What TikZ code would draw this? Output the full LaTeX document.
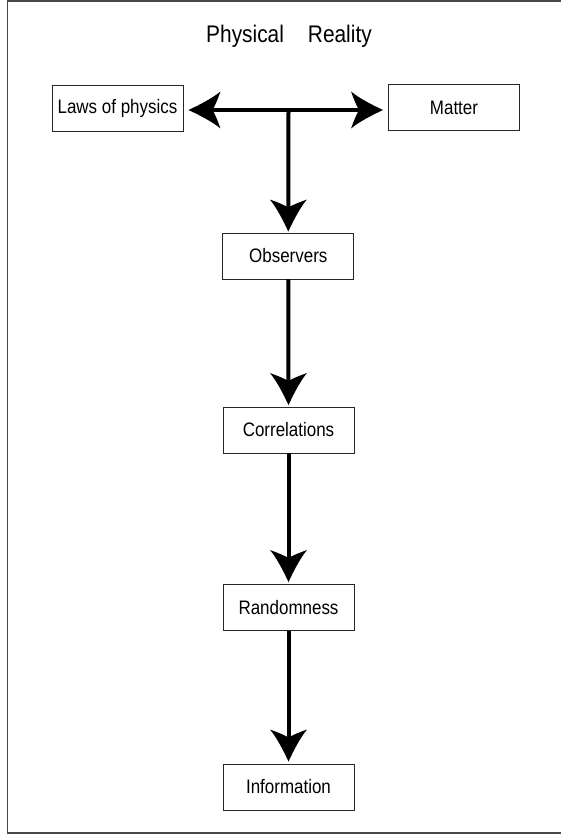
\documentclass[tikz,border=0pt]{standalone}
\usepackage{fontspec}
\setmainfont{Liberation Sans}[FakeStretch=0.87]
\usetikzlibrary{arrows.meta}
\pgfdeclarearrow{
  name = Barb,
  setup code = {
    \pgfarrowssettipend{0pt}
    \pgfarrowssetlineend{-18pt}
    \pgfarrowssetbackend{-32pt}
    \pgfarrowssetvisualbackend{-24pt}
    \pgfarrowsupperhullpoint{0pt}{0pt}
    \pgfarrowsupperhullpoint{-32pt}{18.5pt}
  },
  drawing code = {
    \pgfpathmoveto{\pgfqpoint{0pt}{0pt}}
    \pgfpathcurveto{\pgfqpoint{-12pt}{5.5pt}}{\pgfqpoint{-25pt}{12.5pt}}{\pgfqpoint{-32pt}{18.5pt}}
    \pgfpathcurveto{\pgfqpoint{-29pt}{10pt}}{\pgfqpoint{-26pt}{3pt}}{\pgfqpoint{-24pt}{0pt}}
    \pgfpathcurveto{\pgfqpoint{-26pt}{-3pt}}{\pgfqpoint{-29pt}{-10pt}}{\pgfqpoint{-32pt}{-18.5pt}}
    \pgfpathcurveto{\pgfqpoint{-25pt}{-12.5pt}}{\pgfqpoint{-12pt}{-5.5pt}}{\pgfqpoint{0pt}{0pt}}
    \pgfpathclose
    \pgfusepathqfill
  }
}
\tikzset{
  box/.style={draw=black!85, line width=0.9pt, minimum width=131pt, minimum height=46pt,
    inner sep=0pt, font=\fontsize{19.5}{22}\selectfont},
  conn/.style={line width=4pt, -{Barb}},
  frame/.style={draw=black!72, line width=1.5pt},
  titletext/.style={font=\fontsize{24}{28}\selectfont, inner sep=0pt}
}
\begin{document}
\begin{tikzpicture}[x=1pt, y=-1pt]
  \useasboundingbox (0,0) rectangle (561,834);
  \begin{scope}
    \clip (0,0) rectangle (561,834);
    \draw[frame] (570,1) -- (7.5,1) -- (7.5,833) -- (570,833);
  \end{scope}

  \node[titletext, anchor=base] (title) at (289,42.3) {Physical\hspace{24pt}Reality};

  \node[box] (laws)   at (117.5,108)  {Laws of physics};
  \node[box] (matter) at (454,107.5)  {Matter};
  \node[box] (obs)    at (288.3,256)  {Observers};
  \node[box] (corr)   at (288.5,430)  {Correlations};
  \node[box] (rand)   at (288.5,607.5) {Randomness};
  \node[box] (info)   at (288.5,787)  {Information};

  \coordinate (j) at (288.5,110);
  \draw[conn, shorten >=5pt] (j) -- (laws.east |- j);
  \draw[conn, shorten >=5pt] (j) -- (matter.west |- j);
  \draw[conn, shorten >=1pt] (j) -- (obs.north);
  \draw[conn, shorten >=1.5pt] (obs.south) -- (corr.north);
  \draw[conn, shorten >=2pt] (corr.south) -- (rand.north);
  \draw[conn, shorten >=2pt] (rand.south) -- (info.north);
\end{tikzpicture}
\end{document}
